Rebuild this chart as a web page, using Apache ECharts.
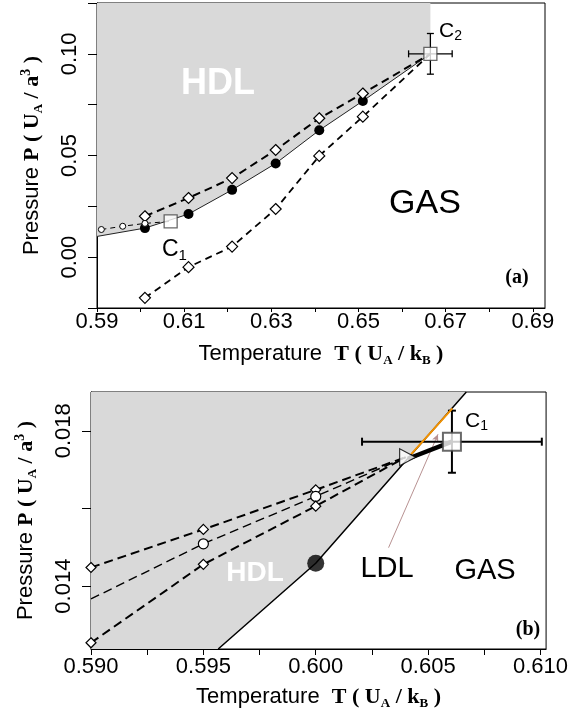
<!DOCTYPE html>
<html>
<head>
<meta charset="utf-8">
<script src="https://cdn.jsdelivr.net/npm/echarts@6/dist/echarts.min.js"></script>
<style>html,body{margin:0;padding:0;background:#fff}#c{width:571px;height:717px}</style>
</head>
<body>
<div id="c"></div>
<script>
// ---------- Panel (a) data ----------
const tA_upper = [0.601, 0.611, 0.621, 0.631, 0.641, 0.651, 0.6665];
const pA_upper = [0.0201, 0.0291, 0.0389, 0.0527, 0.0683, 0.0805, 0.100];
const tA_lower = [0.601, 0.611, 0.621, 0.631, 0.641, 0.651, 0.6665];
const pA_lower = [-0.0200, -0.0049, 0.0052, 0.0237, 0.0498, 0.0691, 0.100];
const pA_lowerErr = [0.0012, 0.0015, 0.0012, 0.0012, 0.0015, 0.0012];
const tA_coex = [0.590, 0.601, 0.611, 0.621, 0.631, 0.641, 0.651, 0.6665];
const pA_coex = [0.0102, 0.0143, 0.0212, 0.0331, 0.0461, 0.0624, 0.0768, 0.100];
const tA_ll = [0.591, 0.5959, 0.601, 0.6069];
const pA_ll = [0.0136, 0.0152, 0.0166, 0.0176];
const C1a = [0.6069, 0.0176];
const C2a = [0.6665, 0.100];
const C2aErr = [0.005, 0.010];
const xTicksA = [0.59, 0.60, 0.61, 0.62, 0.63, 0.64, 0.65, 0.66, 0.67, 0.68, 0.69];
const xLabelsA = [0.59, 0.61, 0.63, 0.65, 0.67, 0.69];
const yTicksA = [-0.025, 0, 0.025, 0.05, 0.075, 0.10, 0.125];
const yLabelsA = [0, 0.05, 0.10];

// ---------- Panel (b) data ----------
const tB = [0.590, 0.595, 0.600, 0.6040];
const pB_upper = [0.01448, 0.01546, 0.01648, 0.01732];
const pB_mid = [0.01367, 0.01509, 0.01631, 0.01732];
const pB_lower = [0.01254, 0.01456, 0.01606, 0.01732];
const tB_line = [0.590, 0.59566, 0.6000, 0.6067];
const pB_line = [0.01238, 0.01238, 0.01459, 0.0190];
const dotB = [0.6000, 0.01459];
const triB = [0.6040, 0.01732];
const C1b = [0.60606, 0.01772];
const C1bErr = [0.0040, 0.0008];
const thickB = [[0.6041, 0.01728], [0.60606, 0.01772]];
const orangeB = [[0.60425, 0.01740], [0.60608, 0.01858]];
const arrowB = [[0.60324, 0.01499], [0.60544, 0.01791]];
const xTicksB = [0.590, 0.5925, 0.595, 0.5975, 0.600, 0.6025, 0.605, 0.6075, 0.610];
const xLabelsB = [0.590, 0.595, 0.600, 0.605, 0.610];
const yTicksB = [0.014, 0.016, 0.018];
const yLabelsB = [0.014, 0.018];

const zip = (a, b) => a.map((v, i) => [v, b[i]]);
const SANS = "'Liberation Sans', Arial, Helvetica, sans-serif";
const SERIF = "'Liberation Serif', 'Times New Roman', serif";
const GRAY = '#d9d9d9';

const nameRich = {
  s: {fontFamily: SANS, fontSize: 22, lineHeight: 26, verticalAlign: 'middle', color: '#000'},
  b: {fontFamily: SERIF, fontSize: 22, fontWeight: 'bold', lineHeight: 26, verticalAlign: 'middle', color: '#000'},
  sub: {fontFamily: SERIF, fontSize: 13, fontWeight: 'bold', lineHeight: 12, verticalAlign: 'bottom', color: '#000'},
  sup: {fontFamily: SERIF, fontSize: 14, fontWeight: 'bold', lineHeight: 12, verticalAlign: 'top', color: '#000'}
};
const xName = '{s|Temperature  }{b|T ( U}{sub|A}{b| / k}{sub|B}{b| )}';
const yName = '{s|Pressure }{b|P ( U}{sub|A}{b| / a}{sup|3}{b| )}';

function errRender(params, api) {
  const x = api.value(0), y = api.value(1), ex = api.value(2), ey = api.value(3);
  const cap = api.value(4);
  const c = api.coord([x, y]);
  const ch = [];
  const st = {stroke: '#000', lineWidth: api.value(5)};
  if (ex > 0) {
    const l = api.coord([x - ex, y]), r = api.coord([x + ex, y]);
    ch.push({type: 'line', shape: {x1: l[0], y1: c[1], x2: r[0], y2: c[1]}, style: st});
    ch.push({type: 'line', shape: {x1: l[0], y1: c[1] - cap, x2: l[0], y2: c[1] + cap}, style: st});
    ch.push({type: 'line', shape: {x1: r[0], y1: c[1] - cap, x2: r[0], y2: c[1] + cap}, style: st});
  }
  if (ey > 0) {
    const t = api.coord([x, y + ey]), b = api.coord([x, y - ey]);
    ch.push({type: 'line', shape: {x1: c[0], y1: t[1], x2: c[0], y2: b[1]}, style: st});
    ch.push({type: 'line', shape: {x1: c[0] - cap, y1: t[1], x2: c[0] + cap, y2: t[1]}, style: st});
    ch.push({type: 'line', shape: {x1: c[0] - cap, y1: b[1], x2: c[0] + cap, y2: b[1]}, style: st});
  }
  return {type: 'group', children: ch};
}

const lowerErrData = tA_lower.slice(0, pA_lowerErr.length).map((t, i) => [t, pA_lower[i], 0, pA_lowerErr[i], 2.5, 1]);

const axisLineStyle = {show: true, onZero: false, lineStyle: {color: '#000', width: 1}};

const option = {
  animation: false,
  backgroundColor: '#fff',
  grid: [
    {left: 97, top: 3, width: 448, height: 305, show: true, borderColor: '#000', borderWidth: 1, backgroundColor: 'transparent'},
    {left: 91, top: 392, width: 456, height: 257, show: true, borderColor: '#000', borderWidth: 1, backgroundColor: 'transparent'}
  ],
  xAxis: [
    {type: 'value', gridIndex: 0, min: 0.59, max: 0.6928, splitLine: {show: false}, axisLine: axisLineStyle,
     axisTick: {show: true, length: 4, customValues: xTicksA, lineStyle: {color: '#000'}},
     axisLabel: {customValues: xLabelsA, formatter: v => v.toFixed(2), fontFamily: SANS, fontSize: 22, color: '#000', margin: 3},
     name: xName, nameLocation: 'middle', nameGap: 33, nameTextStyle: {rich: nameRich}},
    {type: 'value', gridIndex: 1, min: 0.590, max: 0.61025, splitLine: {show: false}, axisLine: axisLineStyle,
     axisTick: {show: true, length: 6, customValues: xTicksB, lineStyle: {color: '#000'}},
     axisLabel: {customValues: xLabelsB, formatter: v => v.toFixed(3), fontFamily: SANS, fontSize: 22, color: '#000', margin: 7},
     name: xName, nameLocation: 'middle', nameGap: 35, nameTextStyle: {rich: nameRich}}
  ],
  yAxis: [
    {type: 'value', gridIndex: 0, min: -0.025, max: 0.125, splitLine: {show: false}, axisLine: axisLineStyle,
     axisTick: {show: true, length: 9, customValues: yTicksA, lineStyle: {color: '#000'}},
     axisLabel: {customValues: yLabelsA, formatter: v => v.toFixed(2), rotate: 90, fontFamily: SANS, fontSize: 22, color: '#000', margin: 16},
     name: yName, nameLocation: 'middle', nameGap: 52, nameTextStyle: {rich: nameRich}},
    {type: 'value', gridIndex: 1, min: 0.01238, max: 0.0190, splitLine: {show: false}, axisLine: axisLineStyle,
     axisTick: {show: true, length: 9, customValues: yTicksB, lineStyle: {color: '#000'}},
     axisLabel: {customValues: yLabelsB, formatter: v => v.toFixed(3), rotate: 90, fontFamily: SANS, fontSize: 22, color: '#000', margin: 16},
     name: yName, nameLocation: 'middle', nameGap: 52, nameTextStyle: {rich: nameRich}}
  ],
  series: [
    // ---- panel (a) ----
    {type: 'line', xAxisIndex: 0, yAxisIndex: 0, data: zip(tA_coex, pA_coex), symbol: 'none', z: 1,
     lineStyle: {opacity: 0}, areaStyle: {origin: 'end', color: GRAY, opacity: 1}},
    {type: 'line', xAxisIndex: 0, yAxisIndex: 0, z: 3,
     data: zip(tA_coex, pA_coex).map((d, i) => (i === 0 || i === tA_coex.length - 1) ? {value: d, symbol: 'none'} : d),
     symbol: 'circle', symbolSize: 10, itemStyle: {color: '#000'}, lineStyle: {color: '#222', width: 1}},
    {type: 'line', xAxisIndex: 0, yAxisIndex: 0, z: 4,
     data: zip(tA_upper, pA_upper).map((d, i) => i === tA_upper.length - 1 ? {value: d, symbol: 'none'} : d),
     symbol: 'diamond', symbolSize: [11, 11], itemStyle: {color: '#fff', borderColor: '#000', borderWidth: 1.2},
     lineStyle: {color: '#000', width: 2, type: [8, 5]}},
    {type: 'custom', xAxisIndex: 0, yAxisIndex: 0, z: 4, renderItem: errRender, data: lowerErrData, encode: {x: 0, y: 1}},
    {type: 'line', xAxisIndex: 0, yAxisIndex: 0, z: 5,
     data: zip(tA_lower, pA_lower).map((d, i) => i === tA_lower.length - 1 ? {value: d, symbol: 'none'} : d),
     symbol: 'diamond', symbolSize: [11, 11], itemStyle: {color: '#fff', borderColor: '#000', borderWidth: 1.2},
     lineStyle: {color: '#000', width: 1.8, type: [7, 5]}},
    {type: 'line', xAxisIndex: 0, yAxisIndex: 0, z: 5,
     data: zip(tA_ll, pA_ll).map((d, i) => i === tA_ll.length - 1 ? {value: d, symbol: 'none'} : d),
     symbol: 'circle', symbolSize: 6, itemStyle: {color: '#fff', borderColor: '#000', borderWidth: 1},
     lineStyle: {color: '#000', width: 1, type: [5, 4]}},
    {type: 'custom', xAxisIndex: 0, yAxisIndex: 0, z: 6, renderItem: errRender,
     data: [[C2a[0], C2a[1], C2aErr[0], C2aErr[1], 3.5, 1.3]], encode: {x: 0, y: 1}},
    {type: 'scatter', xAxisIndex: 0, yAxisIndex: 0, z: 7, data: [C1a, C2a], symbol: 'rect', symbolSize: [13, 13],
     itemStyle: {color: '#fff', borderColor: '#444', borderWidth: 1.3}},
    // ---- panel (b) ----
    {type: 'line', xAxisIndex: 1, yAxisIndex: 1, data: zip(tB_line, pB_line), symbol: 'none', z: 1,
     lineStyle: {opacity: 0}, areaStyle: {origin: 'end', color: GRAY, opacity: 1}},
    {type: 'line', xAxisIndex: 1, yAxisIndex: 1, data: zip(tB_line, pB_line).slice(1), symbol: 'none', z: 3,
     lineStyle: {color: '#000', width: 1.5}},
    {type: 'line', xAxisIndex: 1, yAxisIndex: 1, z: 4,
     data: zip(tB, pB_upper).map((d, i) => i === tB.length - 1 ? {value: d, symbol: 'none'} : d),
     symbol: 'diamond', symbolSize: [10, 10], itemStyle: {color: '#fff', borderColor: '#000', borderWidth: 1.2},
     lineStyle: {color: '#000', width: 2, type: [9, 5]}},
    {type: 'line', xAxisIndex: 1, yAxisIndex: 1, z: 4,
     data: zip(tB, pB_mid).map((d, i) => (i === 0 || i === tB.length - 1) ? {value: d, symbol: 'none'} : d),
     symbol: 'circle', symbolSize: 10, itemStyle: {color: '#fff', borderColor: '#000', borderWidth: 1.2},
     lineStyle: {color: '#000', width: 1.4, type: [9, 5]}},
    {type: 'line', xAxisIndex: 1, yAxisIndex: 1, z: 4,
     data: zip(tB, pB_lower).map((d, i) => i === tB.length - 1 ? {value: d, symbol: 'none'} : d),
     symbol: 'diamond', symbolSize: [10, 10], itemStyle: {color: '#fff', borderColor: '#000', borderWidth: 1.2},
     lineStyle: {color: '#000', width: 2, type: [9, 5]}},
    {type: 'scatter', xAxisIndex: 1, yAxisIndex: 1, z: 5, data: [dotB], symbol: 'circle', symbolSize: 17,
     itemStyle: {color: '#000'}},
    {type: 'custom', xAxisIndex: 1, yAxisIndex: 1, z: 5, renderItem: errRender,
     data: [[C1b[0], C1b[1], C1bErr[0], C1bErr[1], 4, 2]], encode: {x: 0, y: 1}},
    {type: 'line', xAxisIndex: 1, yAxisIndex: 1, z: 6, data: thickB, symbol: 'none',
     lineStyle: {color: '#000', width: 4.5}},
    {type: 'line', xAxisIndex: 1, yAxisIndex: 1, z: 6, data: orangeB, symbol: 'none',
     lineStyle: {color: '#f39200', width: 2}},
    {type: 'line', xAxisIndex: 1, yAxisIndex: 1, z: 6, data: arrowB, symbol: 'none',
     lineStyle: {opacity: 0},
     markLine: {silent: true, symbol: ['none', 'arrow'], symbolSize: [5, 7], label: {show: false},
       lineStyle: {color: '#b89292', width: 1, type: 'solid'},
       data: [[{coord: arrowB[0]}, {coord: arrowB[1]}]]}},
    {type: 'scatter', xAxisIndex: 1, yAxisIndex: 1, z: 7, data: [triB], symbol: 'path://M0,0 L10,5 L0,10 Z',
     symbolSize: [16, 17], symbolOffset: [2, 0], itemStyle: {color: '#fff', borderColor: '#000', borderWidth: 1.2}},
    {type: 'scatter', xAxisIndex: 1, yAxisIndex: 1, z: 8, data: [C1b], symbol: 'rect', symbolSize: [18, 18],
     itemStyle: {color: '#fff', borderColor: '#444', borderWidth: 2}}
  ],
  graphic: [
    {type: 'text', z: 50, style: {text: 'HDL', x: 218, y: 84, align: 'center', verticalAlign: 'middle', fontFamily: SANS, fontWeight: 'bold', fontSize: 36, fill: '#fff'}},
    {type: 'text', z: 50, style: {text: 'GAS', x: 425, y: 204, align: 'center', verticalAlign: 'middle', fontFamily: SANS, fontSize: 34, fill: '#000'}},
    {type: 'text', z: 50, style: {text: '{c|C}{s|1}', x: 162, y: 250, align: 'left', verticalAlign: 'middle',
      rich: {c: {fontFamily: SANS, fontSize: 23, lineHeight: 26, verticalAlign: 'middle', fill: '#000'}, s: {fontFamily: SANS, fontSize: 15, lineHeight: 14, verticalAlign: 'bottom', fill: '#000'}}}},
    {type: 'text', z: 50, style: {text: '{c|C}{s|2}', x: 439, y: 31, align: 'left', verticalAlign: 'middle',
      rich: {c: {fontFamily: SANS, fontSize: 21, lineHeight: 24, verticalAlign: 'middle', fill: '#000'}, s: {fontFamily: SANS, fontSize: 14, lineHeight: 12, verticalAlign: 'bottom', fill: '#000'}}}},
    {type: 'text', z: 50, style: {text: '(a)', x: 517, y: 278, align: 'center', verticalAlign: 'middle', fontFamily: SERIF, fontWeight: 'bold', fontSize: 20, fill: '#000'}},
    {type: 'text', z: 50, style: {text: 'HDL', x: 255, y: 573, align: 'center', verticalAlign: 'middle', fontFamily: SANS, fontWeight: 'bold', fontSize: 28, fill: '#fff'}},
    {type: 'text', z: 50, style: {text: 'LDL', x: 387, y: 569, align: 'center', verticalAlign: 'middle', fontFamily: SANS, fontSize: 29, fill: '#000'}},
    {type: 'text', z: 50, style: {text: 'GAS', x: 485, y: 571, align: 'center', verticalAlign: 'middle', fontFamily: SANS, fontSize: 29, fill: '#000'}},
    {type: 'text', z: 50, style: {text: '{c|C}{s|1}', x: 465, y: 421, align: 'left', verticalAlign: 'middle',
      rich: {c: {fontFamily: SANS, fontSize: 21, lineHeight: 24, verticalAlign: 'middle', fill: '#000'}, s: {fontFamily: SANS, fontSize: 14, lineHeight: 12, verticalAlign: 'bottom', fill: '#000'}}}},
    {type: 'text', z: 50, style: {text: '(b)', x: 528, y: 630, align: 'center', verticalAlign: 'middle', fontFamily: SERIF, fontWeight: 'bold', fontSize: 20, fill: '#000'}}
  ]
};
const chart = echarts.init(document.getElementById('c'), null, {renderer: 'canvas'});
chart.setOption(option);
</script>
</body>
</html>
